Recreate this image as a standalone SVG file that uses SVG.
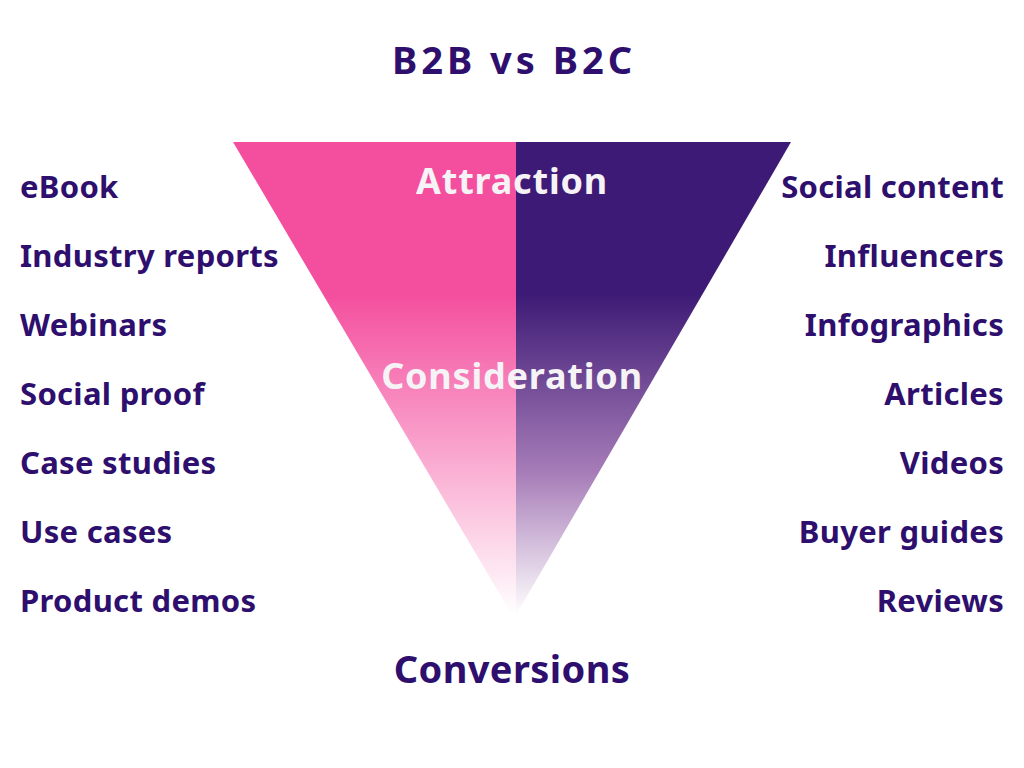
<svg xmlns="http://www.w3.org/2000/svg" width="1024" height="768" viewBox="0 0 1024 768">
<style>
text{font-family:"Noto Sans","Open Sans",sans-serif;font-weight:700}
.item{font-size:31px;fill:#2E0F6E;letter-spacing:0.3px}
.l{text-anchor:start}
.r{text-anchor:end}
.stage{font-size:36px;fill:#F6F3F6;text-anchor:middle;letter-spacing:0.8px}
.title{font-size:38px;fill:#2E0F6E;text-anchor:middle;letter-spacing:4px}
</style>
<defs>
<linearGradient id="gp" x1="0" y1="142" x2="0" y2="615" gradientUnits="userSpaceOnUse">
<stop offset="0" stop-color="#F44E9E"/>
<stop offset="0.32" stop-color="#F44E9E"/>
<stop offset="1" stop-color="#FFFFFF"/>
</linearGradient>
<linearGradient id="gv" x1="0" y1="142" x2="0" y2="615" gradientUnits="userSpaceOnUse">
<stop offset="0" stop-color="#3D1A75"/>
<stop offset="0.32" stop-color="#3D1A75"/>
<stop offset="0.7" stop-color="#A77DB8"/>
<stop offset="1" stop-color="#FFFFFF"/>
</linearGradient>
</defs>
<rect width="1024" height="768" fill="#FFFFFF"/>
<g id="title"><text class="title" x="514" y="74">B2B vs B2C</text></g>
<g id="funnel">
<polygon points="233,142 516,142 516,615 512,615" fill="url(#gp)"/>
<polygon points="516,142 791,142 516,615" fill="url(#gv)"/>
</g>
<g id="stage-attraction"><text class="stage" x="512" y="194">Attraction</text></g>
<g id="stage-consideration"><text class="stage" x="512" y="389">Consideration</text></g>
<g id="stage-conversions"><text class="stage" x="512" y="683" style="fill:#2E0F6E;font-size:38px;letter-spacing:0.4px">Conversions</text></g>
<g id="b2b-list">
<text class="item l" x="20" y="198">eBook</text>
<text class="item l" x="20" y="267">Industry reports</text>
<text class="item l" x="20" y="336">Webinars</text>
<text class="item l" x="20" y="405">Social proof</text>
<text class="item l" x="20" y="474">Case studies</text>
<text class="item l" x="20" y="543">Use cases</text>
<text class="item l" x="20" y="612">Product demos</text>
</g>
<g id="b2c-list">
<text class="item r" x="1004" y="198">Social content</text>
<text class="item r" x="1004" y="267">Influencers</text>
<text class="item r" x="1004" y="336">Infographics</text>
<text class="item r" x="1004" y="405">Articles</text>
<text class="item r" x="1004" y="474">Videos</text>
<text class="item r" x="1004" y="543">Buyer guides</text>
<text class="item r" x="1004" y="612">Reviews</text>
</g>
</svg>
